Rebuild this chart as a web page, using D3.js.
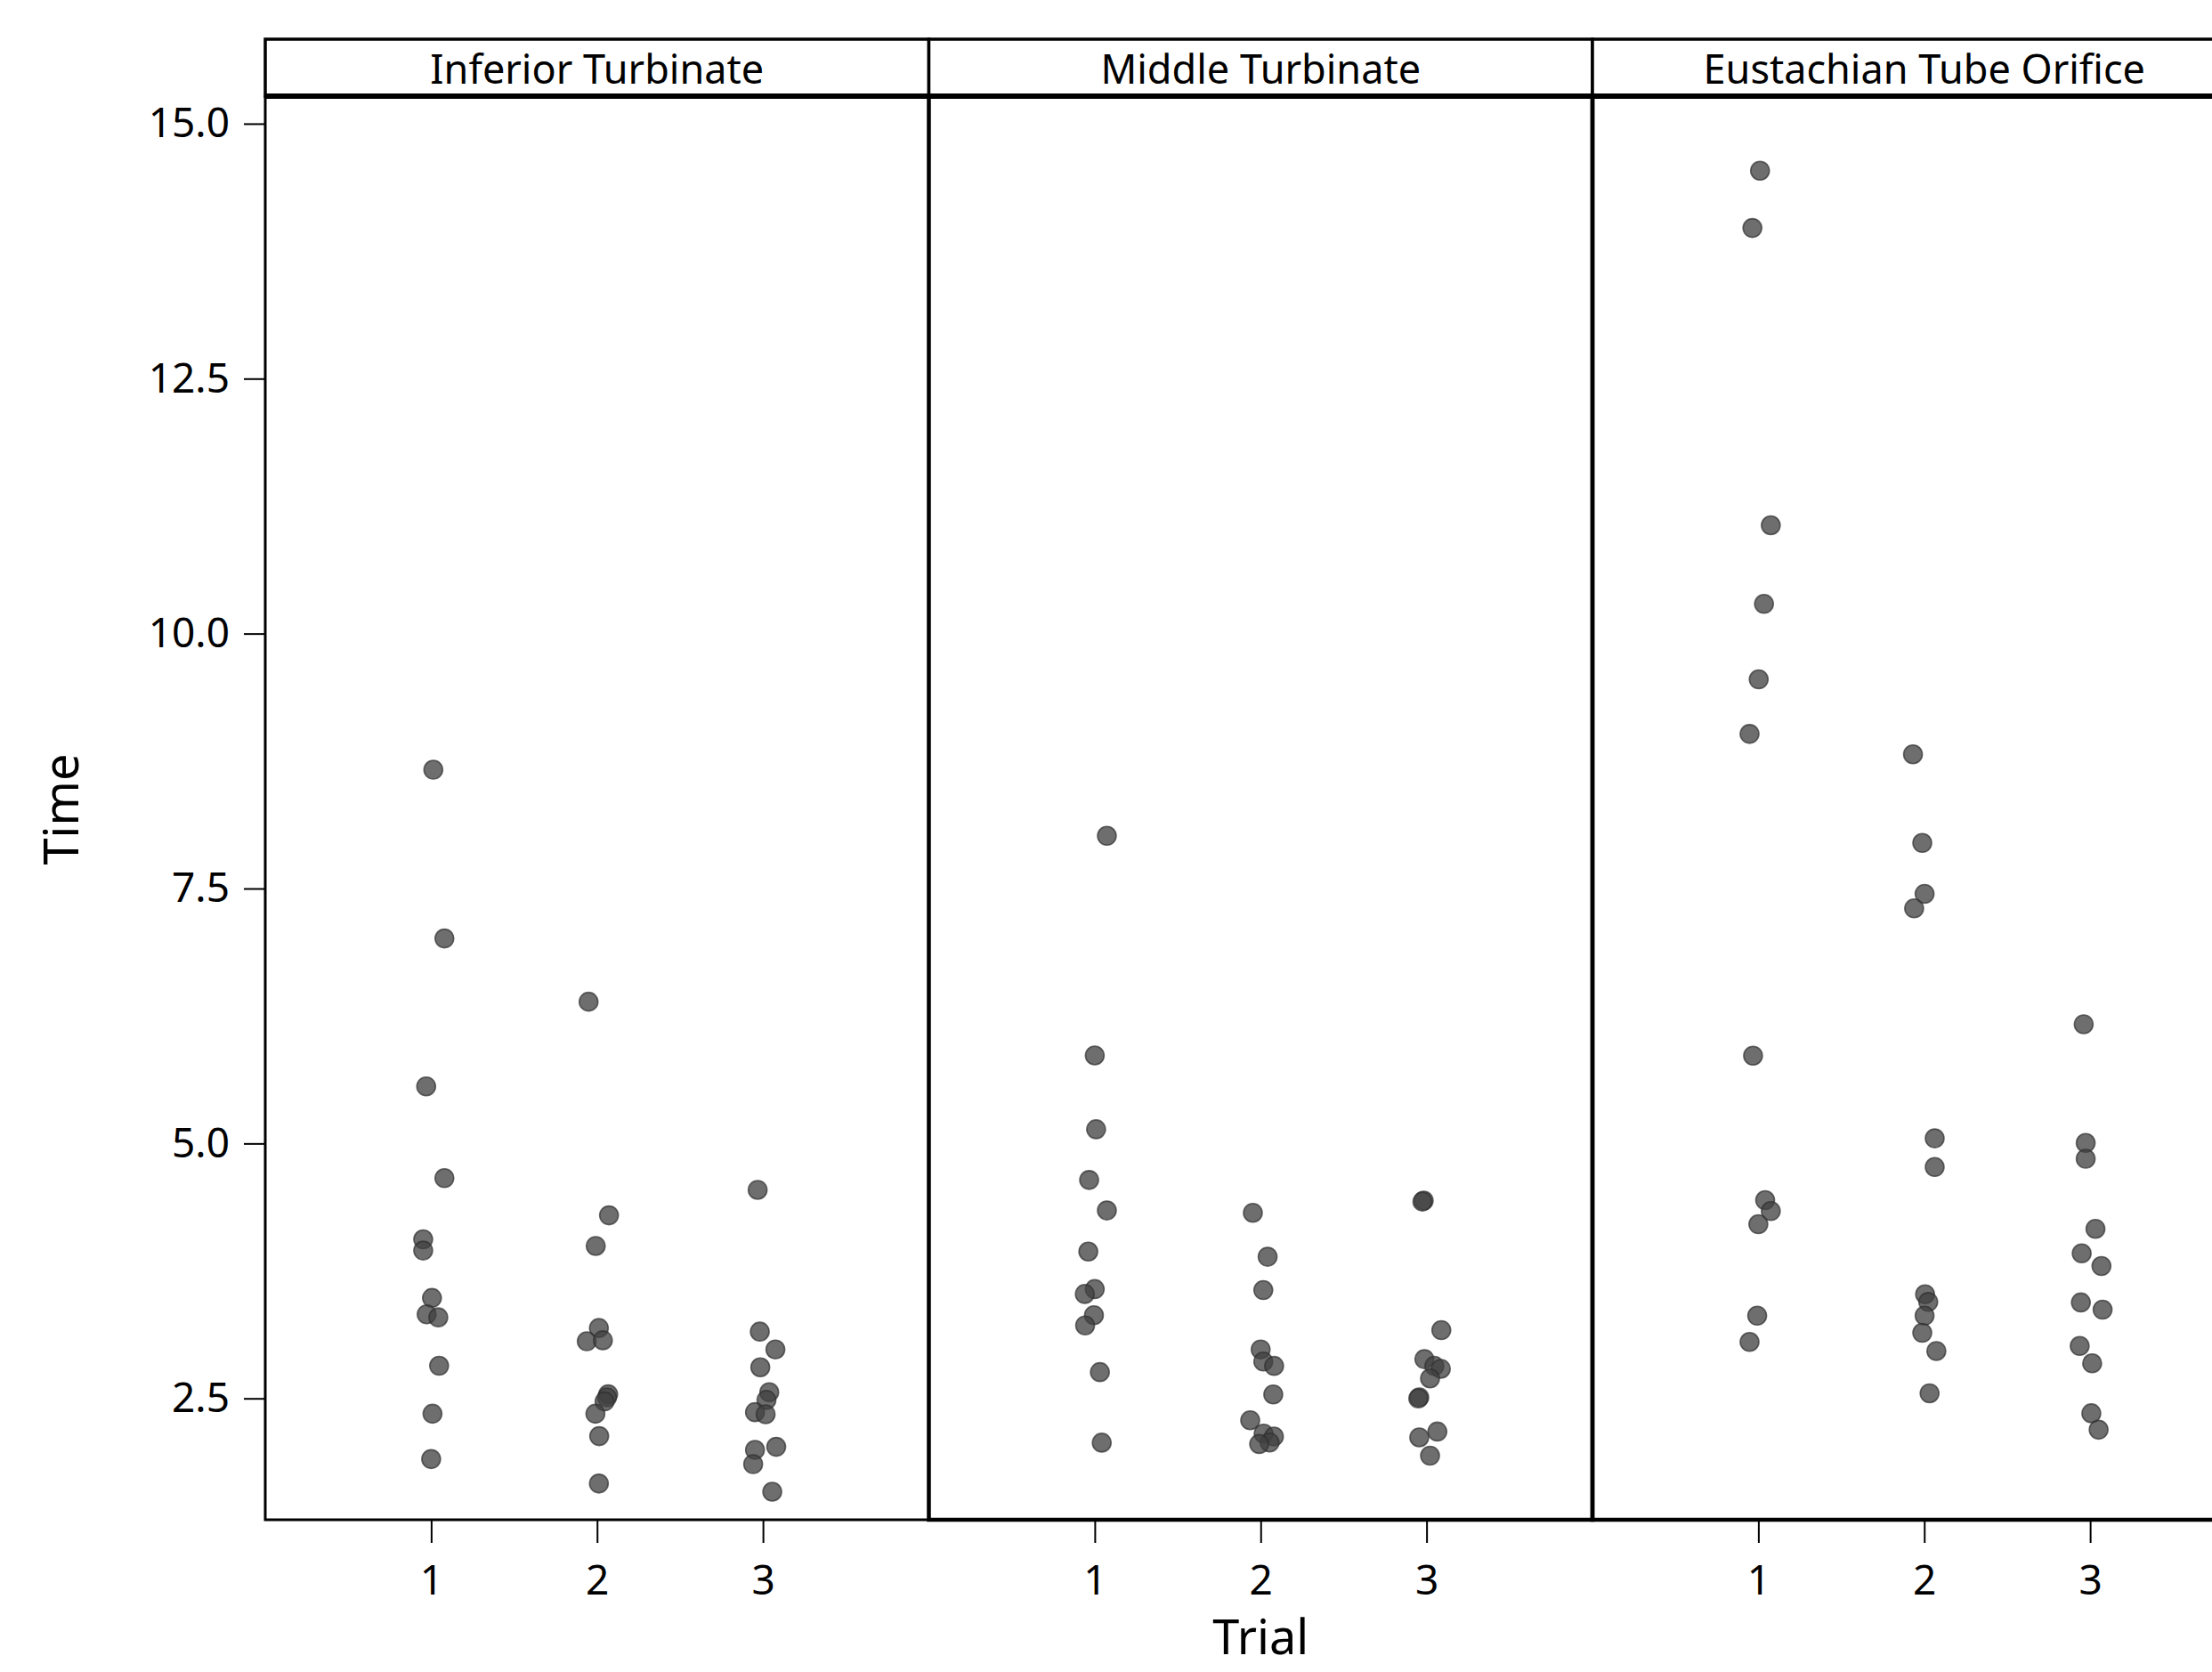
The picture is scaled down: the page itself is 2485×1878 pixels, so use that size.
<!DOCTYPE html>
<html>
<head>
<meta charset="utf-8">
<script src="https://cdn.jsdelivr.net/npm/d3@7"></script>
<style>
  html, body { margin: 0; padding: 0; background: #fff; }
  svg { display: block; font-family: "Noto Sans", "Open Sans", sans-serif; }
</style>
</head>
<body>
<div id="chart"></div>
<script>
// Facet labels and trials
const sites = ['Inferior Turbinate', 'Middle Turbinate', 'Eustachian Tube Orifice'];
const trials = [1, 2, 3];
const yTicks = [2.5, 5.0, 7.5, 10.0, 12.5, 15.0];

// Time values, one array per site and trial
const inferiorT1 = [8.665, 7.01, 5.56, 4.66, 4.06, 3.95, 3.485, 3.325, 3.295, 2.82, 2.35, 1.905];
const inferiorT2 = [6.39, 4.295, 3.995, 3.19, 3.06, 3.07, 2.54, 2.51, 2.47, 2.35, 2.13, 1.665];
const inferiorT3 = [4.545, 3.155, 2.98, 2.805, 2.56, 2.485, 2.365, 2.345, 2.025, 1.995, 1.855, 1.585];

const middleT1 = [8.017, 5.863, 5.139, 4.642, 4.343, 3.94, 3.572, 3.524, 3.316, 3.216, 2.758, 2.066];
const middleT2 = [4.32, 3.889, 3.562, 2.98, 2.862, 2.819, 2.539, 2.286, 2.155, 2.126, 2.068, 2.053];
const middleT3 = [4.44, 4.43, 3.169, 2.885, 2.819, 2.79, 2.696, 2.51, 2.5, 2.175, 2.118, 1.938];

const eustachianT1 = [14.539, 13.977, 11.062, 10.291, 9.551, 9.016, 5.861, 4.444, 4.337, 4.208, 3.311, 3.054];
const eustachianT2 = [8.816, 7.947, 7.448, 7.305, 5.05, 4.769, 3.521, 3.446, 3.311, 3.143, 2.965, 2.55];
const eustachianT3 = [6.169, 5.005, 4.85, 4.163, 3.922, 3.798, 3.441, 3.37, 3.014, 2.844, 2.354, 2.193];

// Horizontal jitter (fraction of a trial step)
const inferiorJ1 = [0.013, 0.08, -0.03, 0.08, -0.048, -0.048, 0.005, -0.027, 0.043, 0.048, 0.008, 0];
const inferiorJ2 = [-0.051, 0.072, -0.008, 0.011, -0.062, 0.035, 0.067, 0.06, 0.045, -0.01, 0.013, 0.011];
const inferiorJ3 = [-0.032, -0.019, 0.075, -0.016, 0.038, 0.021, -0.048, 0.016, 0.08, -0.048, -0.059, 0.056];

const middleJ1 = [0.073, 0, 0.008, -0.034, 0.073, -0.039, 0, -0.06, -0.005, -0.058, 0.031, 0.042];
const middleJ2 = [-0.047, 0.042, 0.016, 0, 0.016, 0.081, 0.076, -0.063, 0.018, 0.08, 0.054, -0.009];
const middleJ3 = [-0.017, -0.025, 0.089, -0.013, 0.047, 0.086, 0.021, -0.044, -0.05, 0.065, -0.044, 0.021];

const eustachianJ1 = [0.01, -0.036, 0.075, 0.034, 0.002, -0.053, -0.032, 0.041, 0.075, 0, -0.007, -0.053];
const eustachianJ2 = [-0.068, -0.012, 0.002, -0.061, 0.063, 0.063, 0.005, 0.024, 0.002, -0.012, 0.073, 0.032];
const eustachianJ3 = [-0.039, -0.027, -0.027, 0.032, -0.051, 0.068, -0.056, 0.075, -0.063, 0.012, 0.007, 0.051];

const siteTimes = [
    [inferiorT1, inferiorT2, inferiorT3],
    [middleT1, middleT2, middleT3],
    [eustachianT1, eustachianT2, eustachianT3]
];
const siteJitter = [
    [inferiorJ1, inferiorJ2, inferiorJ3],
    [middleJ1, middleJ2, middleJ3],
    [eustachianJ1, eustachianJ2, eustachianJ3]
];

// Flatten into points
const points = [];
sites.forEach((site, s) => {
    trials.forEach((trial, t) => {
        siteTimes[s][t].forEach((v, i) => {
            points.push({ site: s, trial: trial, time: v, jitter: siteJitter[s][t][i] });
        });
    });
});

// Dimensions
const width = 2485;
const height = 1878;
const plotLeft = 298;
const panelW = 745.5;
const stripTop = 44;
const stripBottom = 108;
const plotTop = 108;
const plotBottom = 1707;

const svg = d3.select('#chart')
    .append('svg')
    .attr('width', width)
    .attr('height', height);

const y = d3.scaleLinear()
    .domain([1.31, 15.27])
    .range([plotBottom, plotTop]);

const x = d3.scalePoint()
    .domain(trials)
    .range([0, panelW])
    .padding(1);

// Y axis
const yAxis = svg.append('g')
    .attr('transform', `translate(${plotLeft},0)`)
    .call(d3.axisLeft(y)
        .tickValues(yTicks)
        .tickFormat(d3.format('.1f'))
        .tickSize(24)
        .tickPadding(16));
yAxis.select('.domain').remove();
yAxis.selectAll('line').attr('stroke', '#000').attr('stroke-width', 2);
yAxis.selectAll('text')
    .attr('fill', '#000')
    .style('font-size', '46px')
    .style('font-family', '"Noto Sans", sans-serif');

// Panels
sites.forEach((site, s) => {
    const px = plotLeft + s * panelW;
    const g = svg.append('g').attr('transform', `translate(${px},0)`);

    // Points
    g.append('g')
        .selectAll('circle')
        .data(points.filter(d => d.site === s))
        .join('circle')
        .attr('cx', d => x(d.trial) + d.jitter * x.step())
        .attr('cy', d => y(d.time))
        .attr('r', 10.5)
        .attr('fill', '#404040')
        .attr('fill-opacity', 0.76)
        .attr('stroke', '#2e2e2e')
        .attr('stroke-opacity', 0.7)
        .attr('stroke-width', 1.6);

    // Panel frame
    g.append('rect')
        .attr('x', 0)
        .attr('y', plotTop)
        .attr('width', panelW)
        .attr('height', plotBottom - plotTop)
        .attr('fill', 'none')
        .attr('stroke', '#000')
        .attr('stroke-width', s === 0 ? 3 : 4.5);

    // Strip
    g.append('rect')
        .attr('x', 0)
        .attr('y', stripTop)
        .attr('width', panelW)
        .attr('height', stripBottom - stripTop)
        .attr('fill', '#fff')
        .attr('stroke', '#000')
        .attr('stroke-width', 3.5);

    g.append('text')
        .attr('x', panelW / 2)
        .attr('y', 94)
        .attr('text-anchor', 'middle')
        .style('font-size', '45px')
        .text(site);

    // X axis
    const xAxis = g.append('g')
        .attr('transform', `translate(0,${plotBottom})`)
        .call(d3.axisBottom(x).tickSize(26).tickPadding(25));
    xAxis.select('.domain').remove();
    xAxis.selectAll('line').attr('stroke', '#000').attr('stroke-width', 2);
    xAxis.selectAll('text')
        .attr('fill', '#000')
        .style('font-size', '46px')
        .style('font-family', '"Noto Sans", sans-serif');
});

// Thicker shared line under the strips
svg.append('line')
    .attr('x1', plotLeft).attr('x2', plotLeft + 3 * panelW)
    .attr('y1', plotTop).attr('y2', plotTop)
    .attr('stroke', '#000').attr('stroke-width', 6);

// Axis titles
svg.append('text')
    .attr('transform', `translate(88,909) rotate(-90)`)
    .attr('text-anchor', 'middle')
    .style('font-size', '54px')
    .text('Time');

svg.append('text')
    .attr('x', plotLeft + 1.5 * panelW)
    .attr('y', 1858)
    .attr('text-anchor', 'middle')
    .style('font-size', '54px')
    .text('Trial');
</script>
</body>
</html>
